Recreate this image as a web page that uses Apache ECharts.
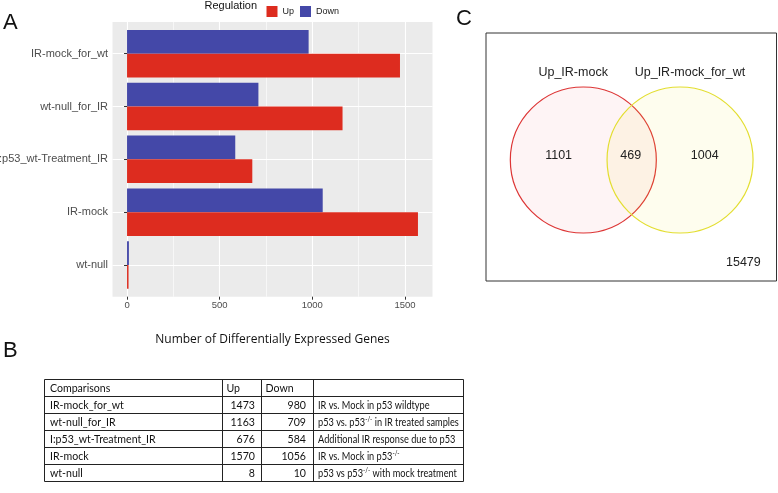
<!DOCTYPE html>
<html><head><meta charset="utf-8">
<script src="https://cdn.jsdelivr.net/npm/echarts@6/dist/echarts.min.js"></script>
<style>html,body{margin:0;padding:0;background:#fff}#c{width:778px;height:493px}</style>
</head><body><div id="c"></div>
<script>
// ---- data ----
const categories = ['IR-mock_for_wt', 'wt-null_for_IR', 'I:p53_wt-Treatment_IR', 'IR-mock', 'wt-null'];
const upValues = [1473, 1163, 676, 1570, 8];
const downValues = [980, 709, 584, 1056, 10];
const xTickValues = [0, 500, 1000, 1500];
const descriptions = [
  'IR vs. Mock in p53 wildtype',
  'p53 vs. p53^-/-^ in IR treated samples',
  'Additional IR response due to p53',
  'IR vs. Mock in p53^-/-^',
  'p53 vs p53^-/-^ with mock treatment'
];
const tableHeader = ['Comparisons', 'Up', 'Down', ''];
const vennSetNames = ['Up_IR-mock', 'Up_IR-mock_for_wt'];
const vennCounts = [1101, 469, 1004];
const vennOutside = 15479;

// ---- styling / layout ----
const RED = '#DD2C1F', BLUE = '#4448A8';
const SANS = "'Liberation Sans', Arial, Helvetica, sans-serif";
const maxV = Math.max(...upValues, ...downValues);
const xMin = -0.05 * maxV, xMax = maxV * 1.05;
const panel = {left: 112.5, top: 22, width: 320, height: 274.7};
const unit = panel.height / (categories.length - 1 + 1.2);
const minorTicks = xTickValues.slice(0, -1).map((v, i) => (v + xTickValues[i + 1]) / 2);

const TFONT = "Lato, sans-serif";
const TSIZE = 11.5;

const chart = echarts.init(document.getElementById('c'), null, {renderer: 'canvas'});

// table graphics
const cols = [44, 222, 261, 313, 463];
const tTop = 379, rowH = 17;
const nRows = categories.length + 1;
const tableEls = [];
const lineStyle = {stroke: '#222', lineWidth: 1};
for (let r = 0; r <= nRows; r++) {
  const y = Math.round(tTop + r * rowH) + 0.5;
  tableEls.push({type: 'line', shape: {x1: cols[0] + 0.5, y1: y, x2: cols[cols.length - 1] + 0.5, y2: y}, style: lineStyle, silent: true});
}
cols.forEach(x => {
  const xx = Math.round(x) + 0.5;
  tableEls.push({type: 'line', shape: {x1: xx, y1: tTop + 0.5, x2: xx, y2: tTop + nRows * rowH + 0.5}, style: lineStyle, silent: true});
});
function cellText(text, x, row, align, sx, rich) {
  const st = {text: text, x: 0, y: 0, align: align, verticalAlign: 'middle',
    fontFamily: TFONT, fontSize: TSIZE, fill: '#111'};
  if (rich) st.rich = rich;
  return {type: 'text', x: x, y: tTop + row * rowH + rowH / 2 + 1, scaleX: sx, style: st, silent: true};
}
const SX = 0.92, SXD = 0.8;
tableEls.push(cellText(tableHeader[0], cols[0] + 6, 0, 'left', SX));
tableEls.push(cellText(tableHeader[1], cols[1] + 4.5, 0, 'left', SX));
tableEls.push(cellText(tableHeader[2], cols[2] + 4.5, 0, 'left', SX));
const supRich = {
  n: {fontFamily: TFONT, fontSize: TSIZE, fill: '#111', lineHeight: 14},
  sup: {fontFamily: TFONT, fontSize: 7.5, fill: '#111', verticalAlign: 'top', lineHeight: 14}
};
categories.forEach((c, i) => {
  tableEls.push(cellText(c, cols[0] + 6, i + 1, 'left', SX));
  tableEls.push(cellText(String(upValues[i]), cols[2] - 6, i + 1, 'right', SX));
  tableEls.push(cellText(String(downValues[i]), cols[3] - 7, i + 1, 'right', SX));
  const parts = descriptions[i].split('^');
  const rt = parts.map((p, k) => p ? (k % 2 ? '{sup|' + p + '}' : '{n|' + p + '}') : '').join('');
  tableEls.push(cellText(rt, cols[3] + 5, i + 1, 'left', SXD, supRich));
});

// venn layout (in unit coordinates of the venn box)
const vennCircles = [
  {value: [0.335, 0.512], itemStyle: {color: 'rgba(245,60,80,0.06)', borderColor: '#DD3535', borderWidth: 1.2}},
  {value: [0.668, 0.512], itemStyle: {color: 'rgba(240,225,40,0.08)', borderColor: '#E3DE30', borderWidth: 1.2}}
];
const vennLabelPos = {
  names: [[0.300, 0.160], [0.702, 0.160]],
  counts: [[0.250, 0.493], [0.498, 0.493], [0.753, 0.493]],
  outside: [0.886, 0.925]
};
const vennLabels = [];
vennSetNames.forEach((n, i) => vennLabels.push({value: vennLabelPos.names[i], name: n}));
vennCounts.forEach((n, i) => vennLabels.push({value: vennLabelPos.counts[i], name: String(n)}));
vennLabels.push({value: vennLabelPos.outside, name: String(vennOutside)});

const option = {
  animation: false,
  backgroundColor: '#fff',
  legend: {
    data: ['Up', 'Down'], left: 261.5, top: 1, itemWidth: 11, itemHeight: 11, itemGap: 6,
    icon: 'rect', textStyle: {fontFamily: SANS, fontSize: 9, color: '#1a1a1a', padding: [0, 0, 0, 0]}
  },
  grid: [
    {left: panel.left, top: panel.top, width: panel.width, height: panel.height, show: true,
      backgroundColor: '#EBEBEB', borderWidth: 0, outerBoundsMode: 'none'},
    {left: panel.left, top: panel.top + 0.6 * unit, width: panel.width, height: (categories.length - 1) * unit,
      outerBoundsMode: 'none'},
    {left: panel.left, top: panel.top + 0.1 * unit, width: panel.width, height: categories.length * unit,
      outerBoundsMode: 'none'},
    {left: 486, top: 33, width: 290.5, height: 248, show: true, backgroundColor: '#fff', borderColor: '#333', borderWidth: 1,
      outerBoundsMode: 'none'}
  ],
  xAxis: [
    {gridIndex: 0, type: 'value', min: xMin, max: xMax, z: 1,
      axisLine: {show: false},
      axisTick: {show: true, length: 3, lineStyle: {color: '#333'}, customValues: xTickValues},
      axisLabel: {customValues: xTickValues, formatter: v => String(v), color: '#4D4D4D', fontSize: 9.5, fontFamily: SANS, margin: 4},
      splitLine: {show: true, lineStyle: {color: '#fff', width: 1.1}},
      name: 'Number of Differentially Expressed Genes', nameLocation: 'middle', nameGap: 37,
      nameTextStyle: {fontFamily: "'Open Sans', sans-serif", fontSize: 12, color: '#111'}},
    {gridIndex: 0, type: 'value', min: xMin, max: xMax, z: 1,
      axisLine: {show: false},
      axisTick: {show: false, customValues: minorTicks},
      axisLabel: {show: false, customValues: minorTicks},
      splitLine: {show: true, lineStyle: {color: '#fff', width: 0.6}}},
    {gridIndex: 1, type: 'value', show: false},
    {gridIndex: 2, type: 'value', min: xMin, max: xMax, show: false},
    {gridIndex: 3, type: 'value', min: 0, max: 1, show: false}
  ],
  yAxis: [
    {gridIndex: 0, type: 'value', show: false},
    {gridIndex: 1, type: 'category', data: categories, inverse: true, boundaryGap: false, z: 1,
      axisLine: {show: false}, axisTick: {show: false}, axisLabel: {show: false},
      splitLine: {show: true, interval: 0, lineStyle: {color: '#fff', width: 1.1}}},
    {gridIndex: 2, type: 'category', data: categories, inverse: true, z: 3,
      axisLine: {show: false},
      axisTick: {show: true, alignWithLabel: true, length: 3, lineStyle: {color: '#333'}},
      axisLabel: {color: '#4D4D4D', fontSize: 11, fontFamily: SANS, margin: 4.5, interval: 0},
      splitLine: {show: false}},
    {gridIndex: 3, type: 'value', min: 0, max: 1, inverse: true, show: false}
  ],
  series: [
    {name: 'Down', type: 'bar', xAxisIndex: 3, yAxisIndex: 2, data: downValues,
      itemStyle: {color: BLUE}, barGap: '0%', barCategoryGap: '10%'},
    {name: 'Up', type: 'bar', xAxisIndex: 3, yAxisIndex: 2, data: upValues,
      itemStyle: {color: RED}, barGap: '0%', barCategoryGap: '10%'},
    {type: 'scatter', xAxisIndex: 4, yAxisIndex: 3, symbolSize: 146, data: vennCircles, silent: true, z: 2,
      itemStyle: {opacity: 1}},
    {type: 'scatter', xAxisIndex: 4, yAxisIndex: 3, symbolSize: 0, data: vennLabels, silent: true, z: 5,
      itemStyle: {opacity: 1},
      label: {show: true, position: 'inside', formatter: p => p.name, fontFamily: SANS, fontSize: 12.5, color: '#222'}}
  ],
  graphic: [
    {type: 'text', left: 3, top: 12, style: {text: 'A', fontFamily: SANS, fontSize: 22, fill: '#111'}, silent: true},
    {type: 'text', left: 3, top: 340, style: {text: 'B', fontFamily: SANS, fontSize: 22, fill: '#111'}, silent: true},
    {type: 'text', left: 456, top: 8, style: {text: 'C', fontFamily: SANS, fontSize: 22, fill: '#111'}, silent: true},
    {type: 'text', left: 204.5, top: 0, style: {text: 'Regulation', fontFamily: SANS, fontSize: 11, fill: '#111'}, silent: true},
    {type: 'group', x: 0, y: 0, children: tableEls}
  ]
};
chart.setOption(option);
</script>
</body></html>
